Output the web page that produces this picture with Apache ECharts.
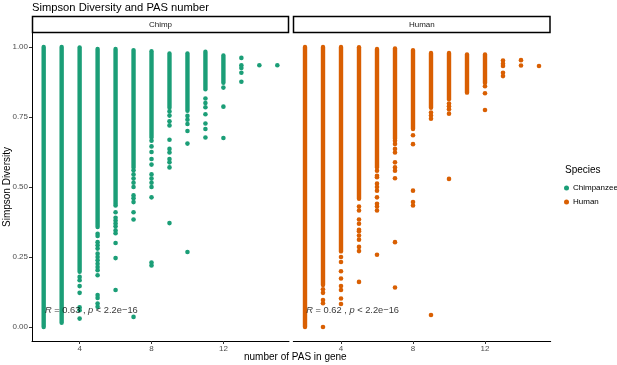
<!DOCTYPE html>
<html>
<head>
<meta charset="utf-8">
<script src="https://cdn.jsdelivr.net/npm/echarts@6/dist/echarts.min.js"></script>
<style>
  html, body { margin: 0; padding: 0; background: #fff; }
  #main { width: 617px; height: 365px; }
</style>
</head>
<body>
<div id="main"></div>
<script>
var panels = ['Chimp', 'Human'];
var species = ['Chimpanzee', 'Human'];
var colors = ['#1b9e77', '#d95f02'];
var xTicks = [4, 8, 12];
var yTicks = [0, 0.25, 0.5, 0.75, 1];

// dense runs of points: [PAS number, lowest, highest]
var chimpRuns = [[2, 0, 1], [3, 0.015, 1], [4, 0.197, 0.998], [5, 0.357, 0.993], [6, 0.44, 0.993],
  [7, 0.57, 0.989], [8, 0.677, 0.985], [9, 0.783, 0.977], [10, 0.772, 0.977], [11, 0.849, 0.983], [12, 0.872, 0.97]];
var chimpPoints = [
  [4, 0.179], [4, 0.167], [4, 0.146], [4, 0.122], [4, 0.07], [4, 0.06], [4, 0.03],
  [5, 0.333], [5, 0.325], [5, 0.303], [5, 0.292], [5, 0.28], [5, 0.262], [5, 0.25], [5, 0.238], [5, 0.226],
  [5, 0.214], [5, 0.203], [5, 0.185], [5, 0.114], [5, 0.104], [5, 0.084], [5, 0.072],
  [6, 0.434], [6, 0.41], [6, 0.39], [6, 0.38], [6, 0.37], [6, 0.36], [6, 0.345], [6, 0.335], [6, 0.30], [6, 0.246], [6, 0.132],
  [7, 0.56], [7, 0.545], [7, 0.53], [7, 0.515], [7, 0.5], [7, 0.47], [7, 0.46], [7, 0.446], [7, 0.41], [7, 0.384], [7, 0.036],
  [8, 0.665], [8, 0.645], [8, 0.625], [8, 0.6], [8, 0.58], [8, 0.545], [8, 0.53], [8, 0.515], [8, 0.5], [8, 0.463], [8, 0.23], [8, 0.22],
  [9, 0.77], [9, 0.755], [9, 0.735], [9, 0.72], [9, 0.669], [9, 0.636], [9, 0.623], [9, 0.6], [9, 0.588], [9, 0.57], [9, 0.371],
  [10, 0.754], [10, 0.74], [10, 0.725], [10, 0.7], [10, 0.655], [10, 0.268],
  [11, 0.816], [11, 0.8], [11, 0.785], [11, 0.76], [11, 0.727], [11, 0.707], [11, 0.677],
  [12, 0.855], [12, 0.787], [12, 0.675],
  [13, 0.961], [13, 0.935], [13, 0.925], [13, 0.908], [13, 0.876],
  [14, 0.935], [15, 0.935]
];

var humanRuns = [[2, 0, 1], [3, 0.15, 1], [4, 0.27, 1], [5, 0.458, 0.999], [6, 0.57, 0.993],
  [7, 0.671, 0.995], [8, 0.707, 0.989], [9, 0.783, 0.979], [10, 0.813, 0.979], [11, 0.837, 0.973], [12, 0.878, 0.973]];
var humanPoints = [
  [3, 0.135], [3, 0.122], [3, 0.096], [3, 0.085], [3, 0.0],
  [4, 0.25], [4, 0.232], [4, 0.199], [4, 0.173], [4, 0.146], [4, 0.132], [4, 0.102], [4, 0.082],
  [5, 0.43], [5, 0.416], [5, 0.384], [5, 0.369], [5, 0.347], [5, 0.342], [5, 0.327], [5, 0.312], [5, 0.286], [5, 0.271], [5, 0.161],
  [6, 0.558], [6, 0.54], [6, 0.535], [6, 0.512], [6, 0.5], [6, 0.487], [6, 0.463], [6, 0.44], [6, 0.43], [6, 0.416], [6, 0.258],
  [7, 0.665], [7, 0.654], [7, 0.636], [7, 0.623], [7, 0.588], [7, 0.57], [7, 0.558], [7, 0.531], [7, 0.303], [7, 0.141],
  [8, 0.685], [8, 0.653], [8, 0.487], [8, 0.446], [8, 0.434],
  [9, 0.766], [9, 0.755], [9, 0.744], [9, 0.043],
  [10, 0.798], [10, 0.788], [10, 0.778], [10, 0.762], [10, 0.529],
  [12, 0.872], [12, 0.86], [12, 0.835], [12, 0.775],
  [13, 0.952], [13, 0.94], [13, 0.932], [13, 0.908], [13, 0.896],
  [14, 0.953], [14, 0.934], [15, 0.932]
];

var corLabels = ['{i|R} = 0.63 , {i|p} < 2.2e\u221216', '{i|R} = 0.62 , {i|p} < 2.2e\u221216'];
var corPos = [2.07, 0.06];

var font = 'Liberation Sans, Arial, sans-serif';
var myChart = echarts.init(document.getElementById('main'));

function runSeries(name, data, gi, color) {
  return {
    name: name,
    type: 'custom',
    xAxisIndex: gi,
    yAxisIndex: gi,
    color: color,
    data: data,
    encode: { x: 0, y: [1, 2] },
    renderItem: function (params, api) {
      var p1 = api.coord([api.value(0), api.value(1)]);
      var p2 = api.coord([api.value(0), api.value(2)]);
      return {
        type: 'line',
        shape: { x1: p1[0], y1: p1[1], x2: p2[0], y2: p2[1] },
        style: { stroke: color, lineWidth: 4.4, lineCap: 'round' }
      };
    }
  };
}

function pointSeries(name, data, gi, color) {
  return {
    name: name,
    type: 'scatter',
    xAxisIndex: gi,
    yAxisIndex: gi,
    color: color,
    symbolSize: 4.6,
    itemStyle: { color: color, opacity: 1 },
    data: data
  };
}

function corSeries(gi) {
  return {
    type: 'scatter',
    xAxisIndex: gi,
    yAxisIndex: gi,
    symbolSize: 0,
    silent: true,
    z: 10,
    data: [corPos],
    label: {
      show: true,
      position: 'right',
      distance: 0,
      formatter: corLabels[gi],
      color: '#000',
      fontFamily: font,
      fontSize: 9.3,
      rich: { i: { fontStyle: 'italic', fontFamily: font, fontSize: 9.3, color: '#000' } }
    }
  };
}

function xAxis(gi) {
  return {
    type: 'value',
    gridIndex: gi,
    min: 1.35,
    max: 15.65,
    splitLine: { show: false },
    axisLine: { show: true, onZero: false, lineStyle: { color: '#000', width: 1 } },
    axisTick: { show: true, length: 3, customValues: xTicks, lineStyle: { color: '#333' } },
    axisLabel: { customValues: xTicks, color: '#4d4d4d', fontSize: 8, margin: 4, fontFamily: font }
  };
}

function yAxis(gi) {
  return {
    type: 'value',
    gridIndex: gi,
    min: -0.05,
    max: 1.05,
    splitLine: { show: false },
    axisLine: { show: gi === 0, onZero: false, lineStyle: { color: '#000', width: 1 } },
    axisTick: { show: gi === 0, length: 3, customValues: yTicks, lineStyle: { color: '#333' } },
    axisLabel: {
      show: gi === 0,
      customValues: yTicks,
      color: '#4d4d4d',
      fontSize: 8,
      margin: 4,
      fontFamily: font,
      formatter: function (v) { return v.toFixed(2); }
    },
    name: gi === 0 ? 'Simpson Diversity' : '',
    nameLocation: 'middle',
    nameGap: 20,
    nameMoveOverlap: false,
    nameTextStyle: { color: '#000', fontSize: 10, fontFamily: font }
  };
}

var option = {
  backgroundColor: '#fff',
  animation: false,
  title: {
    text: 'Simpson Diversity and PAS number',
    left: 27,
    top: -3,
    textStyle: { color: '#000', fontSize: 11.2, fontWeight: 'normal', fontFamily: font }
  },
  grid: [
    { left: 32, top: 33, width: 257, height: 308, outerBoundsMode: 'none', containLabel: false },
    { left: 293.3, top: 33, width: 257.4, height: 308, outerBoundsMode: 'none', containLabel: false }
  ],
  xAxis: [xAxis(0), xAxis(1)],
  yAxis: [yAxis(0), yAxis(1)],
  legend: {
    orient: 'vertical',
    left: 559,
    top: 179,
    icon: 'circle',
    itemWidth: 5,
    itemHeight: 5,
    itemGap: 6,
    data: species,
    textStyle: { color: '#000', fontSize: 8, fontFamily: font, padding: [0, 0, 0, -1] }
  },
  graphic: [
    { type: 'text', left: 565, top: 165, style: { text: 'Species', fill: '#000', font: '10px ' + font } },
    { type: 'text', left: 244, top: 352, style: { text: 'number of PAS in gene', fill: '#000', font: '10px ' + font } },
    { type: 'rect', shape: { x: 32.5, y: 16.5, width: 256, height: 16 }, style: { fill: '#fff', stroke: '#000', lineWidth: 1.5 } },
    { type: 'rect', shape: { x: 293.5, y: 16.5, width: 256.5, height: 16 }, style: { fill: '#fff', stroke: '#000', lineWidth: 1.5 } },
    { type: 'text', x: 160.5, y: 24.5, style: { text: panels[0], fill: '#1a1a1a', font: '8px ' + font, textAlign: 'center', textVerticalAlign: 'middle' } },
    { type: 'text', x: 421.8, y: 24.5, style: { text: panels[1], fill: '#1a1a1a', font: '8px ' + font, textAlign: 'center', textVerticalAlign: 'middle' } }
  ],
  series: [
    runSeries(species[0], chimpRuns, 0, colors[0]),
    pointSeries(species[0], chimpPoints, 0, colors[0]),
    runSeries(species[1], humanRuns, 1, colors[1]),
    pointSeries(species[1], humanPoints, 1, colors[1]),
    corSeries(0),
    corSeries(1)
  ]
};
myChart.setOption(option);
</script>
</body>
</html>
